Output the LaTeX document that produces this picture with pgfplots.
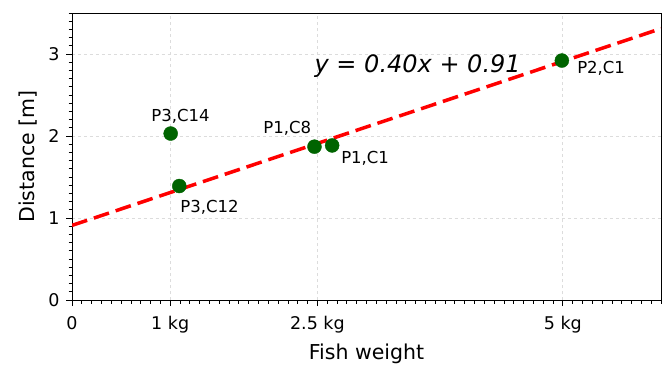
\documentclass[border=0pt]{standalone}
\usepackage{fontspec}
\setmainfont{DejaVu Sans}
\usepackage{pgfplots}
\pgfplotsset{compat=1.18}
\definecolor{dgreen}{RGB}{0,100,0}
\definecolor{gridc}{RGB}{220,220,220}
\begin{document}
\begin{tikzpicture}
\begin{axis}[
  scale only axis, width=589bp, height=287bp,
  xmin=0, xmax=6, ymin=0, ymax=3.5,
  xtick={0,1,2.5,5}, xticklabels={0,1 kg,2.5 kg,5 kg},
  ytick={0,1,2,3},
  minor xtick={0.1,0.2,...,6.0}, minor ytick={0.1,0.2,...,3.5},
  tick align=outside, tick pos=left,
  major tick length=6bp, minor tick length=3.5bp,
  every tick/.style={black, line width=0.8bp},
  axis line style={line width=0.9bp},
  grid=major, major grid style={gridc, dashed, line width=0.8bp},
  /pgf/number format/assume math mode=true,
  tick label style={font=\fontsize{17.5bp}{20bp}\selectfont},
  xticklabel style={yshift=-7bp},
  yticklabel style={xshift=-3bp},
  label style={font=\fontsize{20.5bp}{24bp}\selectfont},
  xlabel={Fish weight}, ylabel={Distance [m]},
  xlabel style={at={(axis description cs:0.5,-0.209)}, anchor=base},
  ylabel style={at={(axis description cs:-0.0745,0.5)}, anchor=center},
  clip=true,
]
\addplot[only marks, mark=*, mark size=7bp, mark options={fill=dgreen, draw=dgreen}] coordinates {
  (1.005,2.03) (1.093,1.39) (2.47,1.87) (2.65,1.885) (4.99,2.92)
};
\addplot[red, line width=3.5bp, dash pattern=on 16bp off 7bp] coordinates {(0,0.91) (6,3.31)};
\node[anchor=base west, inner sep=0, font=\fontsize{16.5bp}{19bp}\selectfont] at (axis cs:0.807,2.178) {P3,C14};
\node[anchor=base west, inner sep=0, font=\fontsize{16.5bp}{19bp}\selectfont] at (axis cs:1.947,2.032) {P1,C8};
\node[anchor=base west, inner sep=0, font=\fontsize{16.5bp}{19bp}\selectfont] at (axis cs:2.741,1.667) {P1,C1};
\node[anchor=base west, inner sep=0, font=\fontsize{16.5bp}{19bp}\selectfont] at (axis cs:1.102,1.071) {P3,C12};
\node[anchor=base west, inner sep=0, font=\fontsize{16.5bp}{19bp}\selectfont] at (axis cs:5.145,2.762) {P2,C1};
\node[anchor=base west, inner sep=0, font=\fontsize{24bp}{28bp}\selectfont\itshape] at (axis cs:2.47,2.774) {y = 0.40x + 0.91};
\end{axis}
\pgfresetboundingbox
\path ([shift={(-72bp,-65bp)}]current axis.south west) rectangle ([shift={(1bp,13bp)}]current axis.north east);
\end{tikzpicture}
\end{document}
